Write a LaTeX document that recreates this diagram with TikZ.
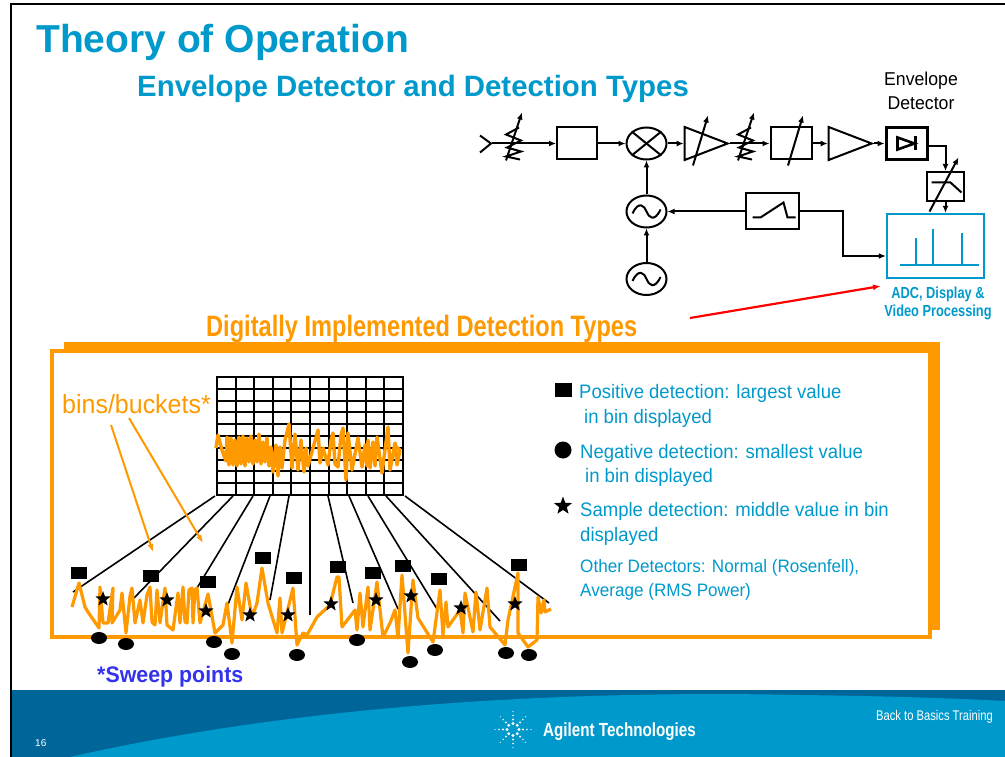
\documentclass[tikz,border=0pt]{standalone}
\usepackage{fontspec}
\setmainfont{Liberation Sans}
\newfontfamily\narrowfont[FakeStretch=0.8]{Liberation Sans}
\newfontfamily\slimfont[FakeStretch=0.95]{Liberation Sans}
\usetikzlibrary{arrows.meta,positioning,shapes.geometric}
\definecolor{AgBlue}{HTML}{0099CC}
\definecolor{AgDark}{HTML}{006699}
\definecolor{AgOrange}{HTML}{FF9900}
\definecolor{AgViolet}{HTML}{3333EE}
\newcommand{\Wave}[1]{\draw[line width=2pt] ([shift={(-14,2)}]#1.center) .. controls ([shift={(-8,-11)}]#1.center) and ([shift={(-2,-6)}]#1.center) .. (#1.center) .. controls ([shift={(2,6)}]#1.center) and ([shift={(8,11)}]#1.center) .. ([shift={(14,-2)}]#1.center);}
\newcommand{\Tune}[1]{\draw[line width=2pt,-{Latex[length=7pt,width=6pt]}] ([shift={(-3,22)}]#1.center) -- ([shift={(12,-28)}]#1.center);}
\newcommand{\Zigzag}[1]{\draw[line width=2pt,-{Latex[length=7pt,width=6pt]}] ([shift={(-8,17)}]#1.center) -- ([shift={(8,-31)}]#1.center);
  \draw[line width=2pt] ([shift={(5,-16)}]#1.center) -- ([shift={(-8,-9)}]#1.center) -- ([shift={(7,-3)}]#1.center) -- ([shift={(-7,4)}]#1.center) -- ([shift={(7,8)}]#1.center) -- ([shift={(-8,13)}]#1.center) -- ([shift={(6,16)}]#1.center);}

\begin{document}
\begin{tikzpicture}[x=1pt,y=-1pt]
    \tikzset{Block/.style={%
            shape=rectangle,%
            draw=black,%
            line width=2pt,%
            inner sep=0pt,%
        },
        Round/.style={%
            shape=ellipse,%
            draw=black,%
            line width=2pt,%
            minimum width=40pt,%
            minimum height=32pt,%
            inner sep=0pt,%
        },
        Amp/.style={%
            shape=isosceles triangle,%
            draw=black,%
            line width=2pt,%
            isosceles triangle stretches,%
            minimum width=33pt,%
            minimum height=43pt,%
            inner sep=0pt,%
        },
        Wire/.style={line width=2pt,-{Latex[length=7pt,width=6pt]}},
        Plain/.style={line width=2pt},
        Fan/.style={line width=1.6pt},
        Spot/.style={shape=ellipse,fill=black,minimum width=16pt,minimum height=12pt,inner sep=0pt},
        Tag/.style={shape=rectangle,fill=black,minimum width=16pt,minimum height=12pt,inner sep=0pt},
        Mark/.style={shape=star,star points=5,star point ratio=2.4,fill=black,minimum size=16pt,inner sep=0pt},
        Noise/.style={draw=AgOrange,line width=3pt,line join=round},
        Label/.style={anchor=west,inner sep=0pt,text=AgBlue,font=\slimfont\fontsize{19.5}{19.5}\selectfont},
    }
    \useasboundingbox (0,0) rectangle (1005,757);
    \fill[white] (0,0) rectangle (1005,757);

    % footer band
    \fill[AgDark] (11,690) rectangle (1005,757);
    \fill[AgBlue] (70,757) .. controls (300,705) and (560,690) .. (800,695) .. controls (880,696) and (950,698) .. (1005,701) -- (1005,757) -- cycle;
    \draw[black,line width=2pt] (10.5,757) -- (10.5,4) -- (1005,4);

    % headings
    \node[anchor=west,inner sep=0pt,text=AgBlue,font=\bfseries\fontsize{39}{39}\selectfont] (title) at (36,42) {Theory of Operation};
    \node[anchor=west,inner sep=0pt,text=AgBlue,font=\bfseries\fontsize{29.4}{29.4}\selectfont] (subtitle) at (137,89) {Envelope Detector and Detection Types};
    \node[anchor=west,inner sep=0pt,text=AgOrange,font=\narrowfont\bfseries\fontsize{29.5}{29.5}\selectfont] (digital) at (206,329) {Digitally Implemented Detection Types};

    % receiver chain
    \node[inner sep=0pt] (input) at (491,143.5) {};
    \node[inner sep=0pt, right of=input, node distance=23pt] (rfatt) {};
    \node[Block, minimum width=40pt, minimum height=32pt, at={(577,143.5)}] (rffilter) {};
    \node[Round, right of=rffilter, node distance=69.5pt] (mixer) {};
    \node[Amp, right of=mixer, node distance=49.5pt] (ifgain) {};
    \node[inner sep=0pt, right of=ifgain, node distance=50pt] (ifatt) {};
    \node[Block, minimum width=41pt, minimum height=32pt, right of=ifatt, node distance=45pt] (iffilter) {};
    \node[Amp, right of=iffilter, node distance=49pt] (logamp) {};
    \node[Block, line width=3pt, minimum width=41pt, minimum height=32pt, right of=logamp, node distance=66.5pt] (detector) {};
    \node[Block, minimum width=37pt, minimum height=29pt, at={(945.5,186.5)}] (vbw) {};
    \node[Block, draw=AgBlue, line width=2.4pt, minimum width=97pt, minimum height=64pt, at={(935.5,246)}] (display) {};
    \node[Block, minimum width=53pt, minimum height=36pt, at={(772.5,211.5)}] (sweep) {};
    \node[Round, at={(646.5,211.5)}] (osc) {};
    \node[Round, below of=osc, node distance=67.5pt] (ref) {};

    \node[inner sep=0pt,text=black,font=\slimfont\fontsize{18.6}{18.6}\selectfont] (envtop) at (921,81) {Envelope};
    \node[inner sep=0pt,text=black,font=\slimfont\fontsize{18.6}{18.6}\selectfont] (envlow) at (921,103) {Detector};
    \node[inner sep=0pt,text=AgBlue,font=\narrowfont\bfseries\fontsize{16}{16}\selectfont] (adc) at (938,294) {ADC, Display \&};
    \node[inner sep=0pt,text=AgBlue,font=\narrowfont\bfseries\fontsize{16}{16}\selectfont] (video) at (938,312) {Video Processing};

    % symbols in the chain
    \draw[Plain] ([shift={(-11,-8)}]input.center) -- (input.center) -- ([shift={(-11,9)}]input.center);
    \Zigzag{rfatt}
    \Zigzag{ifatt}
    \Tune{ifgain}
    \Tune{iffilter}
    \draw[Plain] (mixer.north west) -- (mixer.south east);
    \draw[Plain] (mixer.north east) -- (mixer.south west);
    \Wave{osc}
    \Wave{ref}
    \draw[line width=2.6pt] ([shift={(-9,-6)}]detector.center) -- ([shift={(-9,6)}]detector.center) -- ([shift={(8,0)}]detector.center) -- cycle;
    \draw[line width=2.6pt] ([shift={(9,-7)}]detector.center) -- ([shift={(9,7)}]detector.center);
    \draw[Plain] ([shift={(-14,-4)}]vbw.center) -- ([shift={(5,-4)}]vbw.center) -- ([shift={(16,6)}]vbw.center);
    \draw[line width=2pt,-{Latex[length=7pt,width=6pt]}] ([shift={(-16,25)}]vbw.center) -- ([shift={(13,-29)}]vbw.center);
    \draw[Plain] ([shift={(-20,6)}]sweep.center) -- ([shift={(-12,6)}]sweep.center) -- ([shift={(11,-9)}]sweep.center) -- ([shift={(15,6)}]sweep.center) -- ([shift={(23,6)}]sweep.center);
    \draw[AgBlue,line width=2pt] ([shift={(-36,19)}]display.center) -- ([shift={(43,19)}]display.center);
    \foreach \dx/\top in {-19.5/-8,-2.5/-17,26.5/-13}
        \draw[AgBlue,line width=2pt] ([shift={(\dx,19)}]display.center) -- ([shift={(\dx,\top)}]display.center);

    % connections
    \path (input) edge[Wire] (rffilter);
    \path (rffilter) edge[Wire] (mixer);
    \path (mixer) edge[Wire] (ifgain.west);
    \path (ifgain.east) edge[Wire] (iffilter);
    \path (iffilter) edge[Wire] (logamp.west);
    \path (logamp.east) edge[Wire] (detector);
    \draw[Wire] ([yshift=-3pt]detector.east) -| (vbw.north);
    \draw[Wire] (vbw.south) -- (vbw.south |- display.north);
    \path (osc) edge[Wire] (mixer);
    \path (ref) edge[Wire] (osc);
    \path (sweep) edge[Wire] (osc);
    \coordinate (elbow) at (843,256);
    \draw[Wire] (sweep.east) -| (elbow) -- (display.west |- elbow);
    \coordinate (redtail) at (690,318);
    \coordinate (redhead) at (881,286);
    \draw[red,line width=2.2pt,-{Latex[length=8pt,width=6pt]}] (redtail) -- (redhead);

    % detection frame
    \fill[AgOrange] (64,342) rectangle (940,630);
    \draw[AgOrange,fill=white,line width=3.5pt] (52,351) rectangle (930,637);

    % bins
    \foreach \col in {0,...,10}
        \draw[line width=1.9pt] (217+\col*18.6,377) -- (217+\col*18.6,495);
    \foreach \row in {0,...,10}
        \draw[line width=1.9pt] (217,377+\row*11.8) -- (403,377+\row*11.8);
    \draw[line width=2.6pt] (217,377) rectangle (403,495);
    \foreach \i/\xa/\xb/\yb in {1/215/73/592,2/233/134/598,3/253/197/588,4/270/227/607,5/289/270/600,6/310/310/615,7/328/353/603,8/349/398/609,9/368/437/609,10/386/500/621,11/405/549/603}{
        \coordinate (top\i) at (\xa,496);
        \coordinate (low\i) at (\xb,\yb);
        \path (top\i) edge[Fan] (low\i);
    }

    % noise traces
    \draw[Noise,line width=3.4pt] plot coordinates {(216,448) (218,435) (222,450) (224,456) (226,461) (227,437) (229,465) (231,438) (233,465) (235,440) (237,466) (239,437) (241,464) (243,436) (245,466) (247,438) (249,462) (251,436) (253,464) (255,440) (257,462) (259,434) (261,464) (263,442) (265,462) (267,438) (269,466) (271,447) (273,472) (276,445) (278,476) (280,447) (282,468) (285,440) (289,424) (292,468) (295,434) (298,470) (301,440) (304,472) (306,448) (308,466) (313,448) (318,430) (320,463) (323,448) (328,465) (331,440) (333,433) (335,464) (338,467) (341,435) (343,428) (346,480) (348,433) (352,470) (358,438) (362,467) (365,445) (367,466) (368,440) (370,468) (373,442) (375,466) (377,437) (382,473) (388,427) (390,470) (395,443) (397,465) (400,450) (395,446)};
    \draw[Noise,line width=3.2pt] plot coordinates {(72,607) (79,583) (85,607) (88,612) (99,628) (100,587) (103,623) (108,623) (113,588) (112,623) (120,610) (122,593) (126,633) (130,596) (132,588) (135,623) (140,600) (143,623) (147,595) (150,587) (152,622) (155,625) (157,590) (160,623) (165,588) (167,625) (173,630) (178,593) (180,623) (183,587) (185,622) (187,623) (189,590) (192,588) (193,623) (195,590) (197,588) (200,623) (208,594) (215,633) (223,625) (227,603) (232,643) (237,587) (242,620) (246,583) (252,617) (257,603) (262,568) (268,603) (277,633) (280,598) (282,633) (293,588) (297,645) (303,633) (307,635) (317,617) (330,605) (337,577) (339,577) (342,627) (355,610) (357,630) (360,593) (363,627) (368,587) (370,630) (377,582) (383,637) (390,623) (395,610) (398,638) (402,575) (408,653) (413,580) (418,618) (433,642) (440,590) (443,635) (446,602) (448,627) (460,610) (463,633) (465,593) (473,632) (476,592) (480,630) (487,588) (490,627) (505,645) (508,620) (518,573) (518,633) (528,647) (537,640) (538,597) (541,613) (544,600) (545,612) (551,609)};

    % markers
    \foreach \i/\px/\py in {1/79/573,2/151/576,3/208/582,4/263/558,5/294/578,6/338/567,7/373/573,8/403/566,9/439/579,10/519/565}
        \node[Tag] (tag\i) at (\px,\py) {};
    \foreach \i/\px/\py in {1/99/638,2/126/644,3/214/642,4/232/654,5/297/655,6/357/640,7/410/662,8/435/650,9/506/653,10/529/655}
        \node[Spot] (spot\i) at (\px,\py) {};
    \foreach \i/\px/\py in {1/103/599,2/167/600,3/206/611,4/250/615,5/288/615,6/331/604,7/376/600,8/411/596,9/461/608,10/515/604}
        \node[Mark] (mark\i) at (\px,\py) {};

    % bins label
    \node[Label,text=AgOrange,font=\slimfont\fontsize{26.3}{26.3}\selectfont] (bins) at (62,404) {bins/buckets*};
    \coordinate (binsa) at (111,425);
    \coordinate (binsb) at (129,418);
    \coordinate (bina) at (153,552);
    \coordinate (binb) at (203,543);
    \draw[AgOrange,line width=2pt,-{Latex[length=8pt,width=6pt]}] (binsa) -- (bina);
    \draw[AgOrange,line width=2pt,-{Latex[length=8pt,width=6pt]}] (binsb) -- (binb);
    \node[Label,text=AgViolet,font=\slimfont\bfseries\fontsize{22.5}{22.5}\selectfont] (sweeppts) at (97,677) {*Sweep points};

    % legend
    \node[Tag,minimum width=17pt,minimum height=14pt] (legtag) at (563,390) {};
    \node[Spot,minimum width=17pt,minimum height=17pt] (legspot) at (563,450) {};
    \node[Mark,minimum size=19pt] (legmark) at (563,506) {};
    \node[Label] (pos1) at (579,393) {Positive detection: largest value};
    \node[Label] (pos2) at (584,418) {in bin displayed};
    \node[Label] (neg1) at (580,453) {Negative detection: smallest value};
    \node[Label] (neg2) at (585,477) {in bin displayed};
    \node[Label] (sam1) at (580,511) {Sample detection: middle value in bin};
    \node[Label] (sam2) at (580,536) {displayed};
    \node[Label,font=\slimfont\fontsize{18}{18}\selectfont] (other1) at (580,568) {Other Detectors: Normal (Rosenfell),};
    \node[Label,font=\slimfont\fontsize{18}{18}\selectfont] (other2) at (580,592) {Average (RMS Power)};

    % footer texts
    \node[anchor=west,inner sep=0pt,text=white,font=\narrowfont\bfseries\fontsize{19}{19}\selectfont] (brand) at (543,732) {Agilent Technologies};
    \node[anchor=east,inner sep=0pt,text=white,font=\narrowfont\fontsize{14}{14}\selectfont] (course) at (993,717) {Back to Basics Training};
    \node[anchor=west,inner sep=0pt,text=white,font=\fontsize{10}{10}\selectfont] (page) at (35,743) {16};
    \node[inner sep=0pt] (logo) at (513,729.5) {};
    \foreach \ang in {0,45,...,315}
        \foreach \rad/\dot in {6/1.7,10/1.1,14/0.8,18/0.55}
            \fill[white] (logo) ++(\ang:\rad) circle (\dot pt);
\end{tikzpicture}
\end{document}
